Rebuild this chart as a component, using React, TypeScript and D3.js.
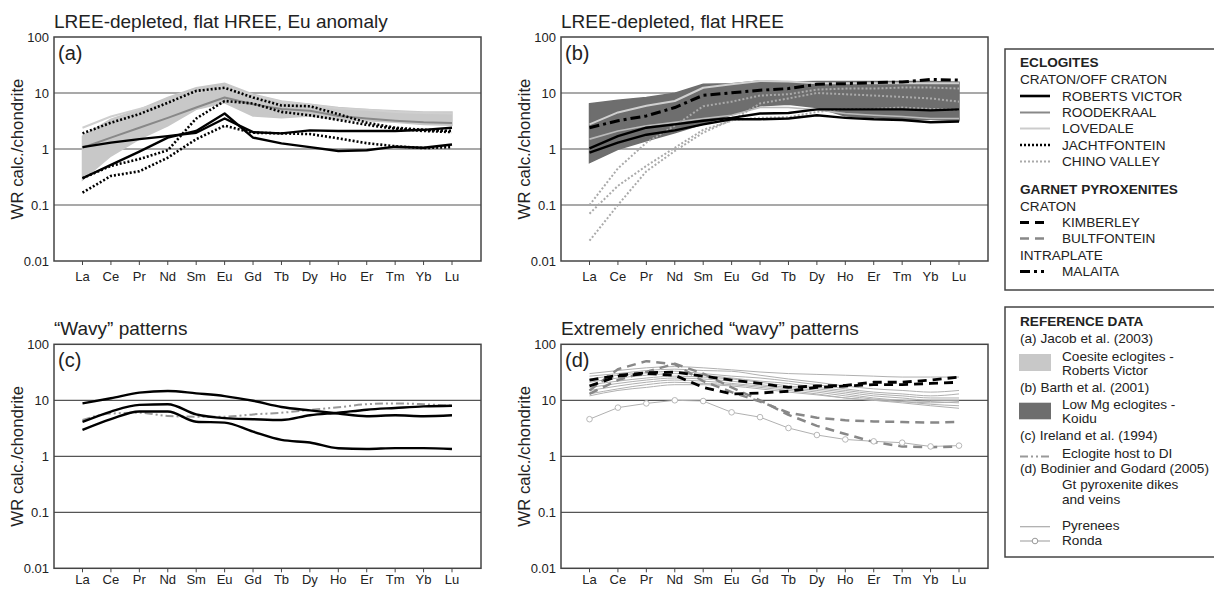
import React from "react";
import * as d3 from "d3";

const elements = ["La", "Ce", "Pr", "Nd", "Sm", "Eu", "Gd", "Tb", "Dy", "Ho", "Er", "Tm", "Yb", "Lu"];
const yTickValues = [0.01, 0.1, 1, 10, 100];
const yTickLabels = ["0.01", "0.1", "1", "10", "100"];
const gridValues = [0.1, 1, 10];

// Panel (a)
const aCoesiteUpper = [1.7, 3.4, 5.1, 8.3, 12.4, 14.9, 9.5, 7.2, 6.3, 5.5, 5.1, 4.8, 4.6, 4.6];
const aCoesiteLower = [0.28, 0.75, 1.5, 2.6, 5.1, 6.7, 3.9, 3.6, 3.9, 3.4, 3.2, 3.0, 2.75, 2.65];
const aLovedale = [2.4, 3.8, 5.2, 7.0, 10, 13, 9, 7, 6.2, 5.3, 5.0, 4.6, 4.4, 4.3];
const aRoodekraal = [1.05, 1.6, 2.4, 3.6, 5.5, 8.3, 6.3, 5.2, 4.8, 3.9, 3.5, 3.2, 3.0, 2.9];
const aJacht1 = [1.9, 2.95, 4.2, 6.7, 10.9, 12.4, 8.3, 6.0, 5.8, 4.2, 2.95, 2.4, 2.2, 2.1];
const aJacht2 = [0.3, 0.5, 0.66, 0.95, 3.5, 7.2, 6.5, 4.6, 4.0, 3.3, 2.7, 2.3, 2.1, 2.0];
const aJacht3 = [0.166, 0.33, 0.4, 0.7, 1.5, 2.6, 1.95, 1.9, 1.85, 1.55, 1.27, 1.12, 1.04, 1.08];
const aRoberts1 = [1.08, 1.3, 1.5, 1.7, 1.95, 3.5, 2.0, 1.9, 2.15, 2.1, 2.1, 2.1, 2.2, 2.4];
const aRoberts2 = [0.3, 0.52, 0.9, 1.6, 2.1, 4.3, 1.6, 1.26, 1.08, 0.92, 0.95, 1.1, 1.05, 1.2];

// Panel (b)
const bKoiduUpper = [6.4, 7.4, 8.3, 9.9, 14.3, 14.7, 16.4, 15.7, 16, 16, 16, 16, 16, 15.5];
const bKoiduLower = [0.57, 0.99, 1.4, 1.95, 2.8, 4.1, 5.9, 6.3, 5.5, 3.9, 3.6, 3.4, 3.4, 3.2];
const bLovedale1 = [2.75, 4.5, 5.9, 7.2, 12.4, 14.3, 16.4, 16, 15, 15, 15, 15, 15, 15];
const bLovedale2 = [1.5, 2.1, 2.6, 3.0, 3.5, 4.0, 5.5, 5.5, 5.0, 4.3, 4.0, 3.8, 3.5, 3.5];
const bChino1 = [0.1, 0.45, 1.3, 2.6, 5.8, 7.0, 9.0, 9.5, 11.5, 12, 12, 12.5, 12.5, 12];
const bChino2 = [0.07, 0.22, 0.5, 1.05, 2.2, 3.2, 6.5, 8, 10, 9.5, 9, 8.5, 8, 7];
const bChino3 = [0.023, 0.1, 0.4, 0.92, 1.96, 3.3, 3.6, 3.7, 4.6, 5.2, 5.2, 5.5, 5.2, 5.0];
const bRoberts1 = [1.03, 1.7, 2.4, 2.75, 3.2, 3.6, 4.3, 4.4, 5.1, 5.1, 5.1, 5.1, 4.9, 5.1];
const bRoberts2 = [0.86, 1.3, 1.8, 2.15, 2.75, 3.4, 3.4, 3.5, 4.0, 3.6, 3.4, 3.3, 3.0, 3.1];
const bMalaita = [2.4, 3.2, 3.9, 5.5, 9.1, 10.1, 11.2, 12, 14.3, 14.7, 15.3, 15.7, 17.5, 17];

// Panel (c)
const cWavy1 = [8.8, 10.9, 13.7, 14.7, 13.3, 11.9, 9.8, 7.6, 6.6, 5.8, 5.2, 5.4, 5.2, 5.4];
const cWavy2 = [4.1, 6.3, 8.3, 8.5, 5.6, 4.8, 4.6, 4.45, 5.4, 6.0, 6.8, 7.3, 7.8, 8.0];
const cWavy3 = [2.95, 4.6, 6.3, 6.3, 4.15, 4.0, 2.75, 1.96, 1.76, 1.39, 1.35, 1.4, 1.4, 1.35];
const cIrelandHost = [4.45, 5.8, 6.0, 5.25, 5.1, 5.1, 5.6, 6.0, 6.7, 7.5, 8.5, 8.8, 8.5, 8.0];

// Panel (d)
const dPyrenees1 = [30, 34, 38, 40, 38, 35, 32, 30, 29, 28, 27, 26, 26, 26];
const dPyrenees2 = [27, 30, 34, 36, 34, 33, 28, 24, 21, 18, 16, 15, 14, 15];
const dPyrenees3 = [24, 28, 31, 33, 30, 27, 25, 22, 19, 16, 14, 13, 12, 13];
const dPyrenees4 = [21, 25, 28, 30, 28, 25, 22, 20, 17, 15, 13, 12, 11, 11];
const dPyrenees5 = [19, 22, 25, 27, 26, 24, 21, 18, 16, 14, 12, 11, 10, 10];
const dPyrenees6 = [17, 20, 23, 25, 24, 22, 19, 17, 15, 13, 11, 10, 9.5, 9];
const dPyrenees7 = [15, 18, 21, 23, 22, 20, 18, 16, 14, 12, 10.5, 9.5, 8.5, 8];
const dPyrenees8 = [13, 16, 19, 21, 20, 19, 17, 15, 13, 11, 10, 9, 8, 7.2];
const dPyrenees9 = [12, 15, 17, 19, 19, 18, 16, 14, 12.5, 11, 10, 9.5, 9, 9.5];
const dRonda = [4.6, 7.4, 8.8, 10, 9.7, 6.1, 5.0, 3.2, 2.4, 2.0, 1.85, 1.75, 1.5, 1.55];
const dBult1 = [13, 23, 32, 45, 30, 17, 10, 5.5, 3.5, 2.5, 1.8, 1.5, 1.45, 1.5];
const dBult2 = [15, 36, 50, 44, 22, 14, 9.5, 6.0, 4.9, 4.4, 4.2, 4.1, 4.0, 4.1];
const dKimberley1 = [23, 28, 31, 32, 27, 23, 20, 17, 18, 18.5, 21, 21, 23, 26];
const dKimberley2 = [18, 27, 30, 28, 17, 13, 13.5, 14.5, 17, 18, 19, 19, 20, 21];

const FONT = "'Liberation Sans', Arial, Helvetica, sans-serif";

type Series = { v: number[]; color: string; width: number; dash?: string; circles?: boolean; smooth?: boolean };
type Band = { upper: number[]; lower: number[]; fill: string };

const BOX_W = 427;
const BOX_H = 224;

function Panel(props: {
  left: number;
  top: number;
  title: string;
  label: string;
  bands: Band[];
  series: Series[];
  smooth?: boolean;
  tickLabelOffset: number;
}) {
  const { left, top, title, label, bands, series, smooth, tickLabelOffset } = props;
  const right = left + BOX_W;
  const bottom = top + BOX_H;
  const x = d3.scalePoint<string>().domain(elements).range([left + 28.5, right - 29]);
  const y = d3.scaleLog().domain([0.01, 100]).range([bottom, top]);
  const mkLine = (s: boolean) =>
    d3
      .line<number>()
      .x((_, i) => x(elements[i]) as number)
      .y((d) => y(d))
      .curve(s ? d3.curveMonotoneX : d3.curveLinear);
  const clipId = "clip-" + label.replace(/[()]/g, "");
  return (
    <g fontFamily={FONT}>
      <defs>
        <clipPath id={clipId}>
          <rect x={left} y={top} width={BOX_W} height={BOX_H} />
        </clipPath>
      </defs>
      <text x={left} y={top - 9} fontSize={19} fill="#222">{title}</text>
      <rect x={left} y={top} width={BOX_W} height={BOX_H} fill="#fff" />
      {gridValues.map((g) => (
        <line key={g} x1={left} x2={right} y1={y(g)} y2={y(g)} stroke="#555" strokeWidth={1.2} />
      ))}
      <g clipPath={`url(#${clipId})`}>
        {bands.map((b, bi) => {
          const area = d3
            .area<number>()
            .x((_, i) => x(elements[i]) as number)
            .y0((_, i) => y(b.lower[i]))
            .y1((d) => y(d));
          return <path key={bi} d={area(b.upper) || ""} fill={b.fill} stroke={b.fill} strokeWidth={1.5} />;
        })}
        {series.map((s, si) => (
          <path
            key={si}
            d={mkLine(!!(s.smooth ?? smooth))(s.v) || ""}
            fill="none"
            stroke={s.color}
            strokeWidth={s.width}
            strokeDasharray={s.dash}
            strokeLinejoin="round"
          />
        ))}
        {series
          .filter((s) => s.circles)
          .map((s, si) =>
            s.v.map((d, i) => (
              <circle key={`${si}-${i}`} cx={x(elements[i]) as number} cy={y(d)} r={2.8} fill="#fff" stroke={s.color} strokeWidth={0.9} />
            ))
          )}
      </g>
      <rect x={left} y={top} width={BOX_W} height={BOX_H} fill="none" stroke="#444" strokeWidth={1.5} />
      <text x={left + 4} y={top + 23} fontSize={20} fill="#222">{label}</text>
      {yTickValues.map((t, i) => (
        <text key={t} x={left - 5} y={y(t)} dy="0.35em" fontSize={13} textAnchor="end" fill="#222">
          {yTickLabels[i]}
        </text>
      ))}
      {elements.map((e) => (
        <g key={e}>
          <line x1={x(e)} x2={x(e)} y1={bottom} y2={bottom + 4} stroke="#444" strokeWidth={1} />
          <text x={x(e)} y={bottom + tickLabelOffset} fontSize={13} textAnchor="middle" fill="#222">{e}</text>
        </g>
      ))}
      <text
        transform={`translate(${left - 31},${(top + bottom) / 2}) rotate(-90)`}
        fontSize={16.8}
        textAnchor="middle"
        fill="#222"
      >
        WR calc./chondrite
      </text>
    </g>
  );
}

const legend1Labels = [
  "ECLOGITES",
  "CRATON/OFF CRATON",
  "ROBERTS VICTOR",
  "ROODEKRAAL",
  "LOVEDALE",
  "JACHTFONTEIN",
  "CHINO VALLEY",
  "GARNET PYROXENITES",
  "CRATON",
  "KIMBERLEY",
  "BULTFONTEIN",
  "INTRAPLATE",
  "MALAITA",
];

const legend2Labels = [
  "REFERENCE DATA",
  "(a) Jacob et al. (2003)",
  "Coesite eclogites -",
  "Roberts Victor",
  "(b) Barth et al. (2001)",
  "Low Mg eclogites -",
  "Koidu",
  "(c) Ireland et al. (1994)",
  "Eclogite host to DI",
  "(d) Bodinier and Godard (2005)",
  "Gt pyroxenite dikes",
  "and veins",
  "Pyrenees",
  "Ronda",
];

function Legends() {
  const hx = 1020;
  const tx = 1062;
  const sx1 = 1020;
  const sx2 = 1050;
  const ys1 = [67, 83.5, 100.5, 117, 133, 149.5, 166, 194, 210.5, 227, 243, 259.5, 276];
  const bold1 = [0, 7];
  const header1 = [0, 1, 7, 8, 11];
  const sym1: Record<number, { color: string; width: number; dash?: string }> = {
    2: { color: "#000", width: 2.6 },
    3: { color: "#888", width: 2 },
    4: { color: "#ccc", width: 2 },
    5: { color: "#000", width: 2.6, dash: "2 2" },
    6: { color: "#aaa", width: 2, dash: "2 2" },
    9: { color: "#000", width: 2.8, dash: "9 6" },
    10: { color: "#888", width: 2.5, dash: "9 6" },
    12: { color: "#000", width: 2.8, dash: "10 4 3 4 3 6" },
  };
  const ys2 = [326, 343.3, 360.7, 375, 391.7, 409, 423.3, 440, 458, 473.3, 489.3, 504, 530, 545];
  const header2 = [0, 1, 4, 7, 9];
  return (
    <g fontFamily={FONT} fontSize={13.6} fill="#222">
      <rect x={1005} y={49} width={230} height={241} fill="none" stroke="#444" strokeWidth={1.5} />
      {legend1Labels.map((t, i) => (
        <text key={t + i} x={header1.includes(i) ? hx : tx} y={ys1[i]} fontWeight={bold1.includes(i) ? "bold" : "normal"}>
          {t}
        </text>
      ))}
      {Object.keys(sym1).map((k) => {
        const i = Number(k);
        const s = sym1[i];
        return (
          <line key={k} x1={sx1} x2={sx2} y1={ys1[i] - 4.5} y2={ys1[i] - 4.5} stroke={s.color} strokeWidth={s.width} strokeDasharray={s.dash} />
        );
      })}

      <rect x={1005} y={307} width={230} height={250} fill="none" stroke="#444" strokeWidth={1.5} />
      {legend2Labels.map((t, i) => (
        <text key={t + i} x={header2.includes(i) ? hx : tx} y={ys2[i]} fontWeight={i === 0 ? "bold" : "normal"}>
          {t}
        </text>
      ))}
      <rect x={1019} y={354} width={32} height={17} fill="#c8c8c8" />
      <rect x={1019} y={402.7} width={32} height={16.6} fill="#6e6e6e" />
      <line x1={sx1} x2={sx2} y1={456.5} y2={456.5} stroke="#999" strokeWidth={2} strokeDasharray="8 3 2 3 2 3" />
      <line x1={sx1} x2={sx2} y1={526.7} y2={526.7} stroke="#aaa" strokeWidth={1.2} />
      <line x1={sx1} x2={sx2} y1={541} y2={541} stroke="#aaa" strokeWidth={1.2} />
      <circle cx={1035} cy={541} r={2.8} fill="#fff" stroke="#999" strokeWidth={1} />
    </g>
  );
}

export default function App() {
  const topA = 37;
  const topC = 344.3;
  const leftA = 54;
  const leftB = 561;
  const lightBand = "#c8c8c8";
  const darkBand = "#6e6e6e";
  const pyrenees = [dPyrenees1, dPyrenees2, dPyrenees3, dPyrenees4, dPyrenees5, dPyrenees6, dPyrenees7, dPyrenees8, dPyrenees9];
  return (
    <svg width={1214} height={589} style={{ position: "absolute", left: 0, top: 0, background: "#fff" }}>
      <rect x={0} y={0} width={1214} height={589} fill="#fff" />
      <Panel
        left={leftA}
        top={topA}
        tickLabelOffset={19.7}
        title="LREE-depleted, flat HREE, Eu anomaly"
        label="(a)"
        bands={[{ upper: aCoesiteUpper, lower: aCoesiteLower, fill: lightBand }]}
        series={[
          { v: aLovedale, color: "#cfcfcf", width: 2 },
          { v: aRoodekraal, color: "#888", width: 2 },
          { v: aJacht1, color: "#000", width: 2.6, dash: "2 2" },
          { v: aJacht2, color: "#000", width: 2.6, dash: "2 2" },
          { v: aJacht3, color: "#000", width: 2.6, dash: "2 2" },
          { v: aRoberts1, color: "#000", width: 2.4 },
          { v: aRoberts2, color: "#000", width: 2.4 },
        ]}
      />
      <Panel
        left={leftB}
        top={topA}
        tickLabelOffset={19.7}
        title="LREE-depleted, flat HREE"
        label="(b)"
        bands={[{ upper: bKoiduUpper, lower: bKoiduLower, fill: darkBand }]}
        series={[
          { v: bLovedale1, color: "#d0d0d0", width: 2 },
          { v: bLovedale2, color: "#bbb", width: 1.6 },
          { v: bChino1, color: "#aaa", width: 2, dash: "2 2" },
          { v: bChino2, color: "#aaa", width: 2, dash: "2 2" },
          { v: bChino3, color: "#aaa", width: 2, dash: "2 2" },
          { v: bRoberts1, color: "#000", width: 2.4 },
          { v: bRoberts2, color: "#000", width: 2.4 },
          { v: bMalaita, color: "#000", width: 3, dash: "10 4 3 4" },
        ]}
      />
      <Panel
        left={leftA}
        top={topC}
        tickLabelOffset={15.5}
        title="“Wavy” patterns"
        label="(c)"
        bands={[]}
        smooth
        series={[
          { v: cIrelandHost, color: "#999", width: 2, dash: "8 3 2 3 2 3" },
          { v: cWavy1, color: "#000", width: 2.4 },
          { v: cWavy2, color: "#000", width: 2.4 },
          { v: cWavy3, color: "#000", width: 2.4 },
        ]}
      />
      <Panel
        left={leftB}
        top={topC}
        tickLabelOffset={15.5}
        title="Extremely enriched “wavy” patterns"
        label="(d)"
        bands={[]}
        series={[
          ...pyrenees.map((p) => ({ v: p, color: "#b0b0b0", width: 1, smooth: true })),
          { v: dRonda, color: "#b0b0b0", width: 1, circles: true },
          { v: dBult1, color: "#888", width: 2.5, dash: "9 6" },
          { v: dBult2, color: "#888", width: 2.5, dash: "9 6" },
          { v: dKimberley1, color: "#000", width: 2.8, dash: "9 6" },
          { v: dKimberley2, color: "#000", width: 2.8, dash: "9 6" },
        ]}
      />
      <Legends />
    </svg>
  );
}
